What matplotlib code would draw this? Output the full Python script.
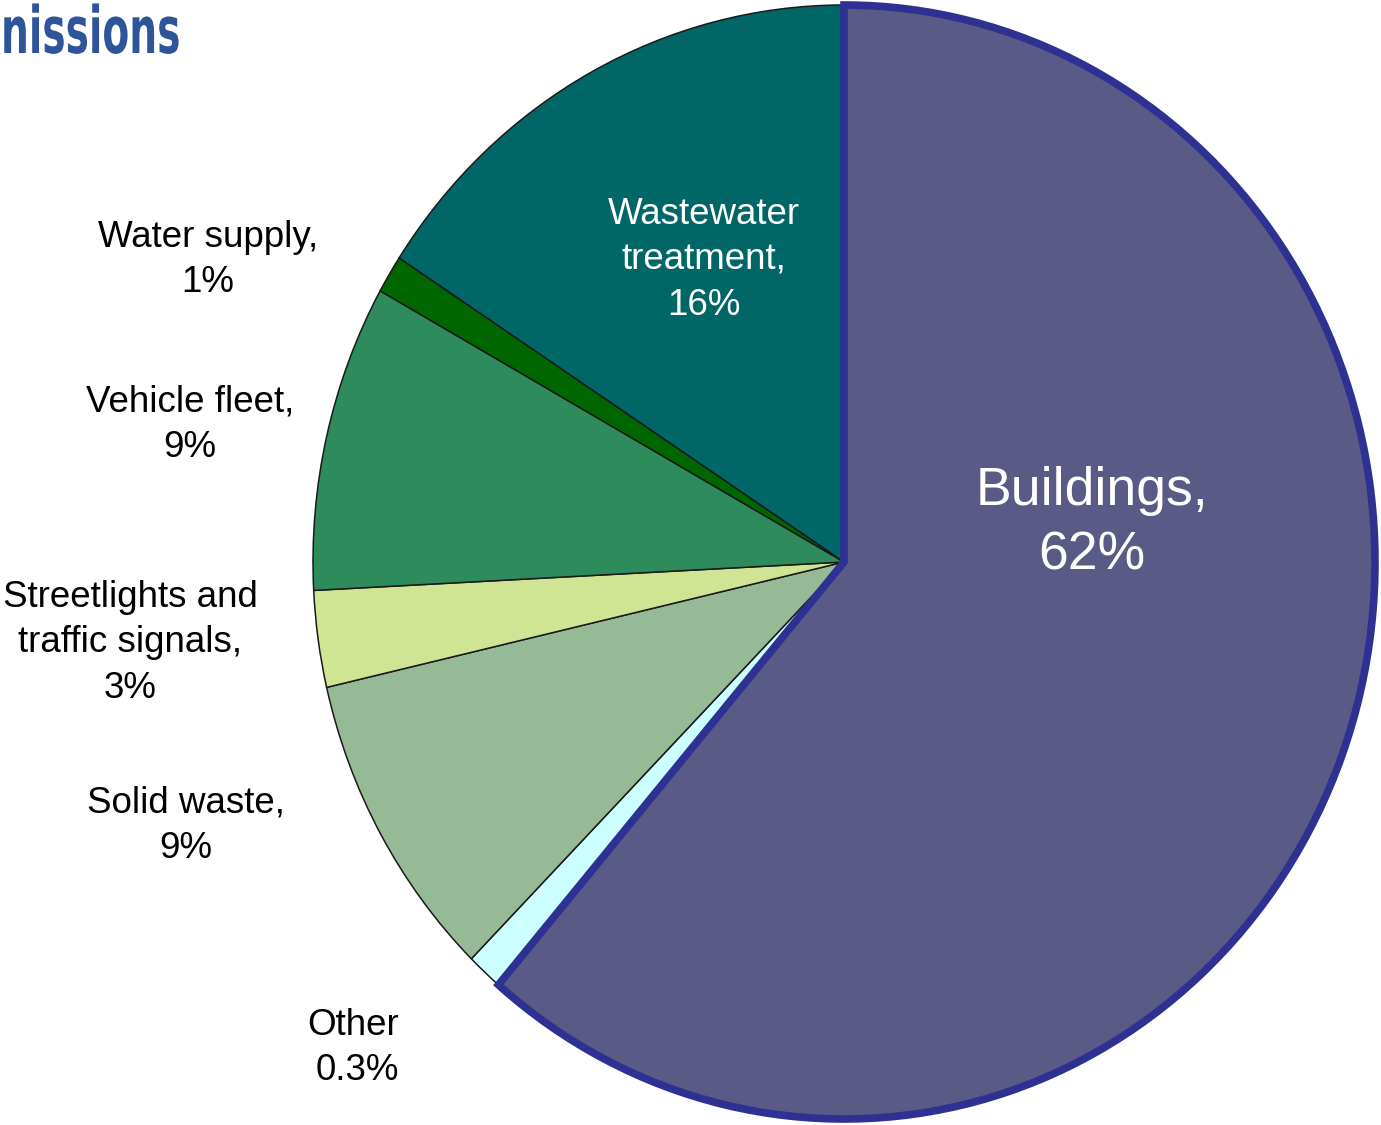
import matplotlib
matplotlib.use("Agg")
import matplotlib.pyplot as plt
from matplotlib import patheffects
from matplotlib.transforms import Affine2D

# ---- data (shares as drawn in the reference) ----
categories = ["Buildings", "Other", "Solid waste", "Streetlights and traffic signals",
              "Vehicle fleet", "Water supply", "Wastewater treatment"]
values = [61.25, 1.1, 9.0, 2.8, 8.9, 1.1, 15.8]
labels = ["Buildings,\n62%", "Other\n0.3%", "Solid waste,\n9%",
          "Streetlights and\ntraffic signals,\n3%", "Vehicle fleet,\n9%",
          "Water supply,\n1%", "Wastewater\ntreatment,\n16%"]
colors = ["#5A5A87", "#CCFFFF", "#96B996", "#D0E594", "#2E8B5B", "#006600", "#006666"]
title_text = "nissions"

W, H = 1381, 1125
fig = plt.figure(figsize=(W / 100, H / 100), dpi=100)
fig.patch.set_facecolor("white")

# pie ellipse geometry in pixels
cx, cy, rx, ry = 844, 562, 531, 557
ax = fig.add_axes([(cx - rx) / W, (H - cy - ry) / H, 2 * rx / W, 2 * ry / H])
wedges, _ = ax.pie(values, startangle=90, counterclock=False, colors=colors,
                   radius=1.0, wedgeprops=dict(edgecolor="#1a1a1a", linewidth=1.1))
ax.set_aspect("auto")
ax.set_xlim(-1, 1)
ax.set_ylim(-1, 1)
ax.axis("off")
wedges[0].set_edgecolor("#2E3192")
wedges[0].set_linewidth(5.5)
wedges[0].set_zorder(5)

font = ["Liberation Sans", "DejaVu Sans"]

def px(x, y):
    return x / W, 1 - y / H

# label positions (pixels) and alignment
lab_pos = {
    "Buildings": (1092, 523, "center", 38.5, "white", 1.36),
    "Other": (399, 1048, "right", 26.5, "black", 1.4),
    "Solid waste": (186, 826, "center", 26.5, "black", 1.4),
    "Streetlights and traffic signals": (130, 643, "center", 26.5, "black", 1.4),
    "Vehicle fleet": (190, 425, "center", 26.5, "black", 1.4),
    "Water supply": (208, 260, "center", 26.5, "black", 1.4),
    "Wastewater treatment": (704, 260, "center", 26.5, "white", 1.4),
}
for cat, lab in zip(categories, labels):
    x, y, ha, fs, col, ls = lab_pos[cat]
    fx, fy = px(x, y)
    fig.text(fx, fy, lab, ha=ha, va="center", multialignment=ha,
             fontsize=fs, color=col, family=font, linespacing=ls, zorder=10)


class Condense(patheffects.AbstractPathEffect):
    def __init__(self, sx, x0):
        super().__init__()
        self.sx = sx
        self.x0 = x0

    def draw_path(self, renderer, gc, tpath, affine, rgbFace=None):
        aff = affine + Affine2D().translate(-self.x0, 0).scale(self.sx, 1).translate(self.x0, 0)
        renderer.draw_path(gc, tpath, aff, rgbFace)


tx, ty = px(1, 53)
fig.text(tx, ty, title_text, ha="left", va="baseline", fontsize=47,
         fontweight="bold", color="#2E5599", family=["DejaVu Sans"],
         path_effects=[Condense(0.6, 1)])

fig.savefig("out.png", dpi=100, facecolor="white")
